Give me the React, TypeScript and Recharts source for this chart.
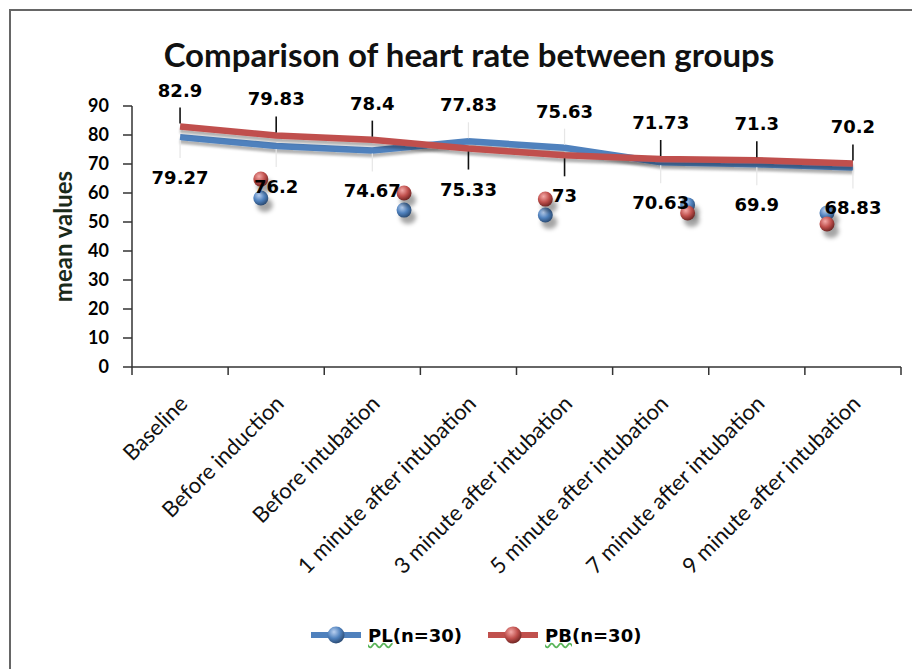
import React from "react";
import { ComposedChart, Line, Scatter, XAxis, YAxis, LabelList } from "recharts";

const categories = [
  "Baseline",
  "Before induction",
  "Before intubation",
  "1 minute after intubation",
  "3 minute after intubation",
  "5 minute after intubation",
  "7 minute after intubation",
  "9 minute after intubation",
];
const plValues = [79.27, 76.2, 74.67, 77.83, 75.63, 70.63, 69.9, 68.83];
const pbValues = [82.9, 79.83, 78.4, 75.33, 73, 71.73, 71.3, 70.2];

// stray 3D markers floating under the lines (category index units)
const strayPos = [0.84, 2.33, 3.8, 5.28, 6.73];
const strayPL = [58.3, 54.1, 52.4, 55.9, 53.1];
const strayPB = [64.8, 60, 57.9, 53.1, 49.3];

const yTicks = [0, 10, 20, 30, 40, 50, 60, 70, 80, 90];

const BLUE = "#4f81bd";
const RED = "#c0504d";

const data = categories.map((name, i) => ({ idx: i, name, pl: plValues[i], pb: pbValues[i] }));
const strayBlue = strayPos.map((p, i) => ({ idx: p, v: strayPL[i] }));
const strayRed = strayPos.map((p, i) => ({ idx: p, v: strayPB[i] }));

// boundary ticks (tick marks) + centre ticks (labels)
const xTicks: number[] = [];
for (let i = 0; i <= categories.length * 2; i++) xTicks.push(i / 2 - 0.5);

const LABEL_FONT = "'DejaVu Sans', Verdana, sans-serif";
const CAT_FONT = "Lato, 'Open Sans', sans-serif";

function CatTick(props: any) {
  const { x, y, payload } = props;
  const v = payload.value;
  if (Math.abs(v - Math.round(v)) > 0.01) {
    return <line x1={x} x2={x} y1={y} y2={y + 8} stroke="#333" strokeWidth={1.5} />;
  }
  const ax = x + 9;
  const ay = y + 38;
  return (
    <text
      x={ax}
      y={ay}
      transform={`rotate(-45 ${ax} ${ay})`}
      textAnchor="end"
      fontFamily={CAT_FONT}
      fontSize={22}
      fill="#111"
    >
      {categories[Math.round(v)]}
    </text>
  );
}

const makeLabel = (self: number[], other: number[], dark: boolean) => (p: any) => {
  const { x, y, index, value } = p;
  const above = self[index] >= other[index];
  const ty = above ? y - 30 : y + 47;
  const l1 = above ? y - 3 : y + 3;
  const l2 = above ? y - 19 : y + 21;
  return (
    <g>
      <line x1={x} x2={x} y1={l1} y2={l2} stroke={dark ? "#111" : "#e6e6e6"} strokeWidth={dark ? 1.6 : 1.2} />
      <text x={x} y={ty} textAnchor="middle" fontFamily={LABEL_FONT} fontWeight="bold" fontSize={18} fill="#000">
        {value}
      </text>
    </g>
  );
};

function Sphere({ cx, cy, id }: { cx: number; cy: number; id: string }) {
  return (
    <g>
      <ellipse cx={cx + 4} cy={cy + 7} rx={8} ry={7} fill="rgba(0,0,0,0.35)" filter="url(#blur)" />
      <circle cx={cx} cy={cy} r={7.5} fill={`url(#${id})`} />
    </g>
  );
}

function LegendSwatch({ color, id }: { color: string; id: string }) {
  return (
    <svg width={50} height={22} style={{ display: "block" }}>
      <defs>
        <radialGradient id={id} cx="38%" cy="32%" r="70%">
          <stop offset="0%" stopColor={color === BLUE ? "#b9d0f0" : "#f4aaa8"} />
          <stop offset="55%" stopColor={color} />
          <stop offset="100%" stopColor={color === BLUE ? "#2a4a72" : "#6e2422"} />
        </radialGradient>
      </defs>
      <rect x={0} y={8} width={50} height={6} fill={color} />
      <circle cx={25} cy={11} r={8.5} fill={`url(#${id})`} />
    </svg>
  );
}

export default function App() {
  return (
    <div
      style={{
        position: "absolute",
        left: 0,
        top: 0,
        width: 912,
        height: 669,
        overflow: "hidden",
        background: "#fff",
      }}
    >
      <div
        style={{
          position: "absolute",
          left: 9,
          top: 9,
          width: 960,
          height: 720,
          borderLeft: "2px solid #666",
          borderTop: "2px solid #666",
        }}
      />
      <div
        style={{
          position: "absolute",
          left: 0,
          width: 938,
          top: 35,
          textAlign: "center",
          fontFamily: CAT_FONT,
          fontWeight: "bold",
          fontSize: 33,
          lineHeight: "38px",
          color: "#111",
        }}
      >
        Comparison of heart rate between groups
      </div>
      <div style={{ position: "absolute", left: 0, top: 0 }}>
        <ComposedChart width={912} height={669} data={data} margin={{ top: 106, right: 11, bottom: 0, left: 0 }}>
          <defs>
            <filter id="blur" x="-50%" y="-50%" width="200%" height="200%">
              <feGaussianBlur stdDeviation={2.2} />
            </filter>
            <filter id="lineShadow" x="-5%" y="-50%" width="110%" height="200%">
              <feDropShadow dx={0} dy={3.5} stdDeviation={1} floodColor="#000" floodOpacity={0.3} />
            </filter>
            <radialGradient id="sphBlue" cx="38%" cy="32%" r="70%">
              <stop offset="0%" stopColor="#b9d0f0" />
              <stop offset="55%" stopColor={BLUE} />
              <stop offset="100%" stopColor="#2a4a72" />
            </radialGradient>
            <radialGradient id="sphRed" cx="38%" cy="32%" r="70%">
              <stop offset="0%" stopColor="#f4aaa8" />
              <stop offset="55%" stopColor={RED} />
              <stop offset="100%" stopColor="#6e2422" />
            </radialGradient>
          </defs>
          <XAxis
            dataKey="idx"
            type="number"
            domain={[-0.5, categories.length - 0.5]}
            ticks={xTicks}
            interval={0}
            tick={<CatTick />}
            tickLine={false}
            tickSize={0}
            tickMargin={0}
            height={302}
            axisLine={{ stroke: "#333", strokeWidth: 1.5 }}
            allowDataOverflow
          />
          <YAxis
            type="number"
            domain={[0, 90]}
            ticks={yTicks}
            interval={0}
            width={132}
            tickSize={9}
            tickMargin={14}
            axisLine={{ stroke: "#333", strokeWidth: 1.5 }}
            tickLine={{ stroke: "#333", strokeWidth: 1.5 }}
            tick={{ fontFamily: CAT_FONT, fontWeight: "bold", fontSize: 18, fill: "#000" }}
            label={{
              content: (p: any) => {
                const vb = p.viewBox || { x: 0, y: 106, width: 132, height: 261 };
                const cx = vb.x + 62;
                const cy = vb.y + vb.height / 2;
                return (
                  <text
                    transform={`translate(${cx} ${cy}) rotate(-90)`}
                    textAnchor="middle"
                    dominantBaseline="central"
                    fontFamily={CAT_FONT}
                    fontWeight="bold"
                    fontSize={24}
                    fill="#1a2a1a"
                  >
                    mean values
                  </text>
                );
              },
            }}
          />
          <Line
            dataKey="pl"
            type="linear"
            stroke={BLUE}
            strokeWidth={6.5}
            dot={false}
            activeDot={false}
            filter="url(#lineShadow)"
            isAnimationActive={false}
          />
          <Line
            dataKey="pb"
            type="linear"
            stroke={RED}
            strokeWidth={6.5}
            dot={false}
            activeDot={false}
            filter="url(#lineShadow)"
            isAnimationActive={false}
          />
          <Scatter
            data={strayBlue}
            dataKey="v"
            isAnimationActive={false}
            shape={(p: any) => <Sphere cx={p.cx} cy={p.cy} id="sphBlue" />}
          />
          <Scatter
            data={strayRed}
            dataKey="v"
            isAnimationActive={false}
            shape={(p: any) => <Sphere cx={p.cx} cy={p.cy} id="sphRed" />}
          />
          <Line
            dataKey="pl"
            stroke="none"
            dot={false}
            activeDot={false}
            legendType="none"
            isAnimationActive={false}
          >
            <LabelList dataKey="pl" content={makeLabel(plValues, pbValues, false)} />
          </Line>
          <Line
            dataKey="pb"
            stroke="none"
            dot={false}
            activeDot={false}
            legendType="none"
            isAnimationActive={false}
          >
            <LabelList dataKey="pb" content={makeLabel(pbValues, plValues, true)} />
          </Line>
        </ComposedChart>
      </div>
      <div
        style={{
          position: "absolute",
          left: 311,
          top: 624,
          display: "flex",
          alignItems: "center",
          fontFamily: LABEL_FONT,
          fontWeight: "bold",
          fontSize: 18,
          color: "#000",
        }}
      >
        <LegendSwatch color={BLUE} id="lgBlue" />
        <span style={{ marginLeft: 7 }}>
          <span style={{ textDecoration: "underline wavy #5bb55b" }}>PL</span>(n=30)
        </span>
        <span style={{ width: 26 }} />
        <LegendSwatch color={RED} id="lgRed" />
        <span style={{ marginLeft: 7 }}>
          <span style={{ textDecoration: "underline wavy #5bb55b" }}>PB</span>(n=30)
        </span>
      </div>
    </div>
  );
}
